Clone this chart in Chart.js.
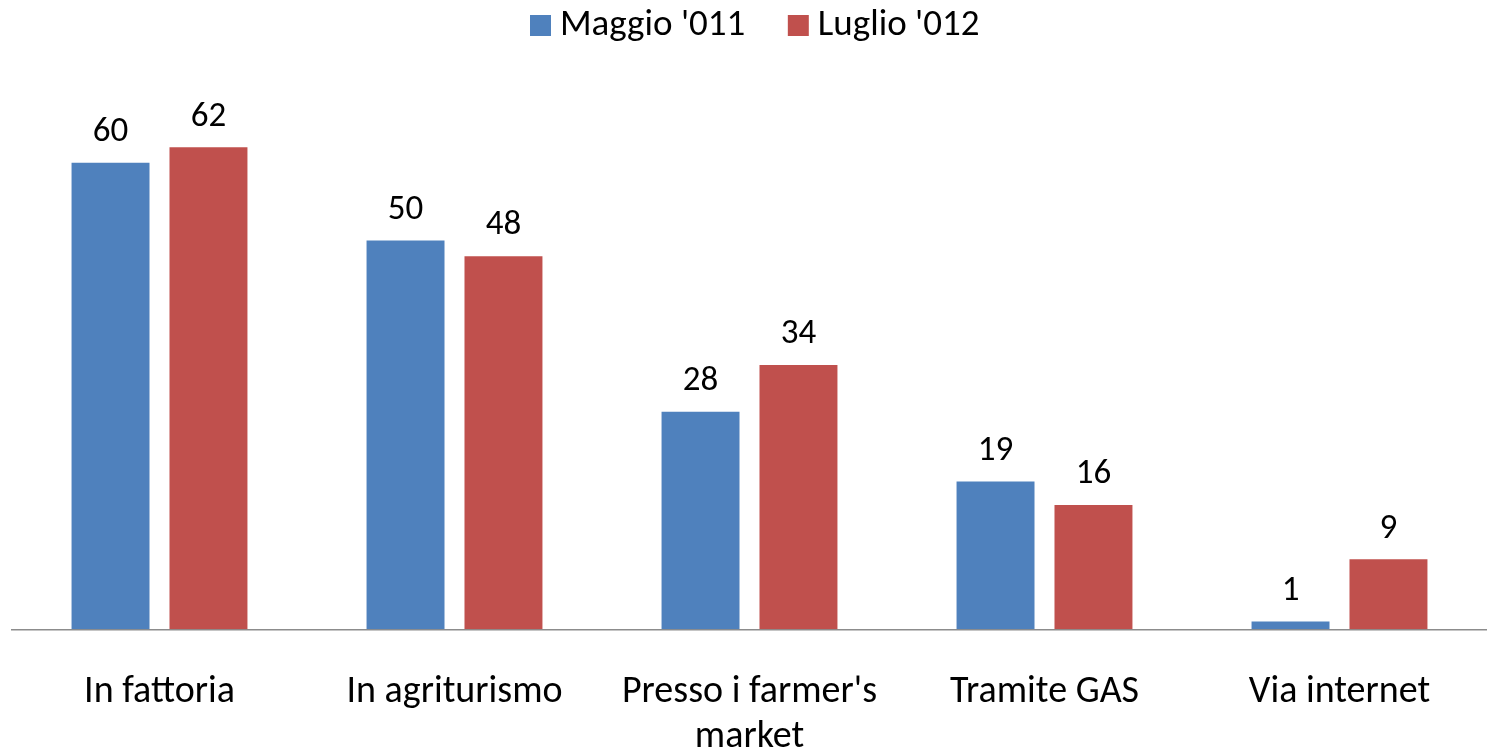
<!DOCTYPE html>
<html>
<head>
<meta charset="utf-8">
<script src="https://cdn.jsdelivr.net/npm/chart.js@4"></script>
<style>
    html, body { margin: 0; padding: 0; background: #ffffff; }
    #chartBox { width: 1487px; height: 750px; }
</style>
</head>
<body>
<div id="chartBox"><canvas id="channelChart"></canvas></div>
<script>
// Categories and series values
const categories = ['In fattoria', 'In agriturismo', ["Presso i farmer's", 'market'], 'Tramite GAS', 'Via internet'];
const maggio2011 = [60, 50, 28, 19, 1];
const luglio2012 = [62, 48, 34, 16, 9];
const seriesNames = ["Maggio '011", "Luglio '012"];

const fontFamily = "Carlito, Calibri, Lato, 'Open Sans', sans-serif";

// Plugin to write the value above each bar
const valueLabels = {
    id: 'valueLabels',
    afterDatasetsDraw(chart) {
        const ctx = chart.ctx;
        ctx.save();
        ctx.font = `35px ${fontFamily}`;
        ctx.fillStyle = '#000000';
        ctx.textAlign = 'center';
        ctx.textBaseline = 'bottom';
        chart.data.datasets.forEach((dataset, i) => {
            const meta = chart.getDatasetMeta(i);
            meta.data.forEach((bar, index) => {
                ctx.fillText(dataset.data[index], bar.x, bar.y - 13);
            });
        });
        ctx.restore();
    }
};

// Legend in the original sits a little right of the centre
const legendShift = {
    id: 'legendShift',
    afterLayout(chart) {
        chart.legend.left += 10;
        chart.legend.right += 10;
    }
};

function createChart() {
    const ctx = document.getElementById('channelChart').getContext('2d');

    new Chart(ctx, {
        type: 'bar',
        data: {
            labels: categories,
            datasets: [{
                label: seriesNames[0],
                data: maggio2011,
                backgroundColor: '#4F81BD',
                categoryPercentage: 0.664,
                barPercentage: 0.796
            }, {
                label: seriesNames[1],
                data: luglio2012,
                backgroundColor: '#C0504D',
                categoryPercentage: 0.664,
                barPercentage: 0.796
            }]
        },
        options: {
            responsive: true,
            maintainAspectRatio: false,
            animation: false,
            layout: {
                padding: { left: 12, right: 0, top: -45, bottom: -12 }
            },
            scales: {
                x: {
                    grid: { display: false, drawTicks: true, tickLength: 39 },
                    border: { display: true, color: '#8c8c8c', width: 1.5 },
                    ticks: {
                        color: '#000000',
                        maxRotation: 0,
                        autoSkip: false,
                        padding: 2,
                        font: { family: fontFamily, size: 38, lineHeight: 1.18 }
                    }
                },
                y: {
                    display: false,
                    beginAtZero: true,
                    max: 74
                }
            },
            plugins: {
                legend: {
                    position: 'top',
                    labels: {
                        color: '#000000',
                        usePointStyle: true,
                        pointStyle: 'rect',
                        boxWidth: 2,
                        boxHeight: 21,
                        padding: 52,
                        font: { family: fontFamily, size: 37 }
                    }
                },
                tooltip: { enabled: false }
            }
        },
        plugins: [valueLabels, legendShift]
    });
}

document.addEventListener('DOMContentLoaded', function () {
    createChart();
});
</script>
</body>
</html>
